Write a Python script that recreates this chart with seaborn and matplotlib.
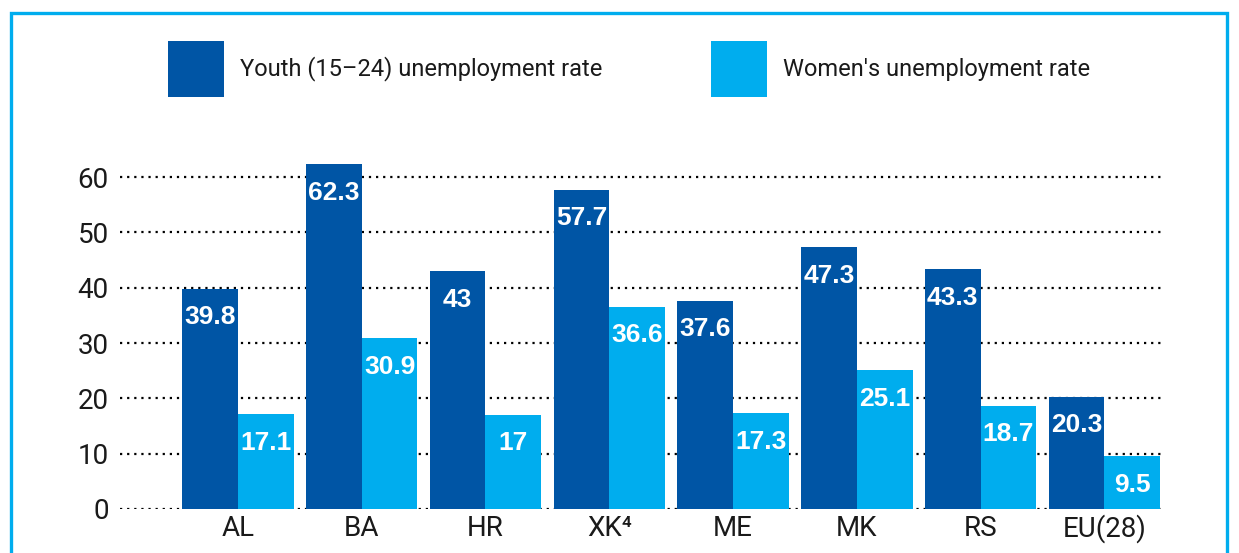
import matplotlib.pyplot as plt
import pandas as pd
import seaborn as sns
from matplotlib.patches import Rectangle

# 数据
countries = ["AL", "BA", "HR", "XK⁴", "ME", "MK", "RS", "EU(28)"]
youth_rate = [39.8, 62.3, 43, 57.7, 37.6, 47.3, 43.3, 20.3]
women_rate = [17.1, 30.9, 17, 36.6, 17.3, 25.1, 18.7, 9.5]
series_names = ["Youth (15–24) unemployment rate", "Women's unemployment rate"]

dark_blue = "#0055a5"
light_blue = "#00adee"

df = pd.DataFrame({
    "country": countries * 2,
    "rate": youth_rate + women_rate,
    "series": [series_names[0]] * len(countries) + [series_names[1]] * len(countries),
})

sns.set_theme(style="white")
plt.rcParams["font.family"] = ["Roboto", "DejaVu Sans"]

fig = plt.figure(figsize=(12.39, 5.53), dpi=100)
ax = fig.add_axes([0.0969, 0.0796, 0.9403 - 0.0969, 0.7197 - 0.0796])

sns.barplot(data=df, x="country", y="rate", hue="series", palette=[dark_blue, light_blue],
            width=0.9, saturation=1, gap=0, linewidth=0, ax=ax, zorder=3)

ax.set_xlim(-0.952, 7.49)
ax.set_ylim(0, 64)
ax.set_yticks(range(0, 61, 10))
ax.yaxis.grid(True, linestyle=(0, (1, 2.2)), color="black", linewidth=1.6, zorder=0)
ax.xaxis.grid(False)
for s in ax.spines.values():
    s.set_visible(False)
ax.set_xlabel("")
ax.set_ylabel("")
ax.tick_params(axis="both", length=0, labelsize=20, colors="#1a1a1a")
ax.tick_params(axis="y", pad=8)
ax.tick_params(axis="x", pad=4)

# 数值标签
for container in ax.containers:
    for bar in container:
        h = bar.get_height()
        ax.annotate(f"{h:g}", (bar.get_x() + bar.get_width() / 2, h),
                    xytext=(0, -20.5), textcoords="offset points", ha="center", va="center",
                    color="white", fontsize=19, fontweight="bold",
                    family=["Liberation Sans", "DejaVu Sans"], zorder=5)

# 图例
sns.move_legend(ax, "upper left", bbox_to_anchor=(0.1356, 0.9259), bbox_transform=fig.transFigure,
                ncol=2, frameon=False, title=None, fontsize=17, handlelength=2.37, handleheight=3.27,
                handletextpad=0.68, columnspacing=4.6, borderpad=0, borderaxespad=0)
for t in ax.get_legend().get_texts():
    t.set_color("#1a1a1a")

# 外框
fig.patches.append(Rectangle((0.0089, -0.05), 0.9903 - 0.0089, 0.9765 + 0.05,
                             transform=fig.transFigure, fill=False, edgecolor=light_blue,
                             linewidth=2.4, zorder=0))

fig.savefig("out.png", dpi=100)
